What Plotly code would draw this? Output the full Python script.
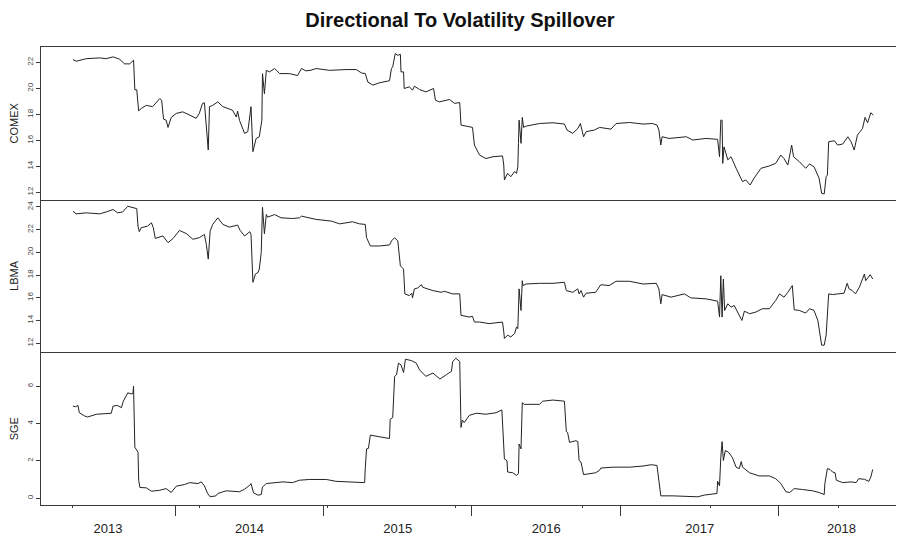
import plotly.graph_objects as go

# ---- data (x = observation index, y = directional spillover) ----
COMEX = [(1,22.23),(6,22.1),(22,22.3),(43,22.36),(53,22.3),(64,22.44),(74,22.26),(82,21.9),(90,21.9),(95,22.18),(96,22.18),
         (98,19.9),(101,19.9),(104,18.28),(108,18.46),(116,18.7),(126,18.6),(137,19.23),(140,19.1),(143,17.64),(147,17.56),
         (150,17.0),(155,17.77),(163,18.08),(173,18.2),(184,17.95),(194,17.7),(199,18.08),(204,18.85),(207,18.9),(210,17.2),
         (213,15.26),(215,18.6),(220,18.7),(228,18.97),(236,18.6),(251,18.33),(257,17.8),(259,18.26),(262,17.54),(270,16.54),
         (275,16.67),(280,18.6),(283,15.13),(288,16.15),(293,16.28),(297,17.56),(298,21.15),(301,19.6),(304,21.4),(309,21.28),
         (317,21.54),(325,21.15),(340,21.15),(353,21.0),(359,21.54),(366,21.36),(374,21.41),(382,21.54),(403,21.4),(429,21.46),
         (445,21.46),(453,21.2),(459,21.15),(463,20.5),(471,20.26),(481,20.44),(497,20.6),(500,21.54),(502,21.67),(506,22.69),
         (510,22.56),(514,22.64),(515,21.28),(519,21.28),(520,20.0),(528,20.13),(533,19.87),(536,20.18),(544,19.92),(554,19.74),
         (566,20.0),(569,19.1),(575,18.97),(591,19.15),(599,18.85),(607,18.92),(609,17.18),(617,17.1),(627,17.0),(630,15.64),
         (638,14.87),(648,14.6),(659,14.74),(674,14.8),(676,14.1),(677,12.95),(682,13.46),(687,13.2),(693,13.6),(696,13.46),
         (698,13.97),(699,15.77),(700,17.56),(703,15.77),(705,17.77),(707,17.0),(711,17.1),(732,17.3),(753,17.36),(771,17.26),
         (775,16.8),(784,16.54),(792,16.92),(796,17.3),(801,16.28),(805,16.67),(818,16.8),(826,17.0),(844,16.87),(852,17.3),
         (873,17.38),(894,17.26),(909,17.3),(916,17.18),(919,16.8),(922,15.64),(924,16.28),(935,16.15),(962,16.28),(972,16.03),
         (993,16.15),(1011,16.08),(1014,14.74),(1016,17.56),(1018,17.56),(1019,14.23),(1021,15.5),(1027,14.5),(1032,14.74),
         (1040,13.85),(1048,12.95),(1050,12.82),(1055,12.95),(1062,12.56),(1068,13.08),(1079,13.85),(1092,14.03),(1102,14.23),
         (1110,14.87),(1115,14.6),(1121,14.1),(1127,15.64),(1130,14.74),(1139,14.36),(1149,13.85),(1155,14.18),(1162,13.97),
         (1170,13.08),(1174,11.92),(1178,11.87),(1181,13.2),(1183,13.33),(1185,15.9),(1194,15.97),(1199,15.64),(1207,15.72),
         (1215,16.28),(1220,15.9),(1225,15.26),(1230,16.4),(1233,16.6),(1238,16.92),(1242,17.77),(1246,17.36),(1251,18.13),
         (1255,17.95)]

LBMA = [(1,23.62),(6,23.39),(22,23.48),(32,23.45),(43,23.39),(53,23.56),(64,23.77),(71,23.48),(79,23.56),(87,24.06),(95,23.97),
        (101,23.85),(103,22.31),(105,21.82),(108,22.17),(118,22.31),(124,22.6),(127,22.17),(130,21.23),(137,21.35),(142,21.44),
        (150,20.85),(158,21.23),(168,21.93),(179,21.64),(189,21.15),(199,21.29),(207,21.58),(210,20.7),(213,19.4),(216,21.87),
        (220,22.46),(228,23.04),(236,22.46),(246,22.22),(259,22.4),(263,21.93),(270,21.44),(278,21.82),(280,21.58),(283,17.36),
        (287,18.09),(291,18.23),(293,18.52),(296,19.98),(298,23.97),(301,21.64),(304,23.33),(306,23.1),(317,23.33),(327,23.04),
        (345,22.98),(356,23.04),(359,23.19),(366,23.1),(382,22.9),(406,22.75),(419,22.51),(439,22.69),(450,22.51),(459,22.46),
        (461,21.29),(467,20.56),(481,20.56),(497,20.65),(500,21.0),(505,21.29),(510,21.0),(514,18.81),(519,18.52),(521,16.34),
        (528,16.19),(532,16.4),(533,15.99),(536,16.78),(541,16.86),(547,17.15),(549,16.92),(565,16.63),(578,16.48),(583,16.57),
        (596,16.34),(607,16.34),(609,14.45),(622,14.3),(627,14.36),(630,13.86),(638,13.86),(653,13.72),(674,13.86),(676,12.99),
        (677,12.41),(682,12.7),(687,12.55),(693,12.84),(696,13.43),(698,13.28),(699,14.88),(700,16.78),(703,14.88),(705,17.5),
        (706,17.07),(711,17.21),(732,17.27),(753,17.27),(771,17.36),(774,16.63),(784,16.48),(792,16.78),(794,16.34),(797,16.63),
        (801,16.05),(805,16.4),(820,16.48),(828,17.15),(841,17.07),(852,17.45),(873,17.45),(894,17.21),(915,17.27),(919,16.78),
        (922,15.47),(924,16.28),(938,16.05),(959,16.34),(969,15.99),(993,15.9),(1011,15.7),(1014,14.3),(1016,17.94),(1018,14.3),
        (1020,17.65),(1022,14.88),(1027,15.47),(1032,15.17),(1037,15.32),(1042,14.74),(1049,14.0),(1053,14.82),(1061,14.59),
        (1071,14.74),(1081,15.03),(1092,15.03),(1102,15.76),(1108,16.34),(1115,16.05),(1121,16.48),(1124,16.78),(1128,17.07),
        (1131,14.94),(1139,14.88),(1149,14.65),(1155,15.03),(1162,14.88),(1168,14.0),(1174,11.82),(1178,11.82),(1181,12.7),
        (1185,16.34),(1191,16.28),(1202,16.34),(1209,16.4),(1214,17.27),(1217,16.78),(1222,16.63),(1227,16.34),(1233,16.92),
        (1241,18.09),(1243,17.5),(1250,18.03),(1254,17.65)]

SGE = [(1,4.94),(5,4.9),(9,4.97),(11,4.58),(19,4.41),(24,4.35),(38,4.5),(53,4.55),(61,4.55),(64,4.94),(71,4.97),(77,4.85),
       (80,5.2),(87,5.65),(92,5.59),(95,5.61),(96,6.0),(98,2.73),(100,2.6),(103,2.46),(104,0.96),(106,0.57),(116,0.55),
       (124,0.37),(137,0.42),(147,0.51),(155,0.3),(163,0.64),(176,0.73),(184,0.83),(197,0.78),(202,0.87),(207,0.66),(212,0.25),
       (216,0.07),(225,0.12),(228,0.25),(241,0.39),(262,0.34),(270,0.48),(278,0.69),(280,0.78),(284,0.28),(291,0.16),(296,0.19),
       (298,0.6),(304,0.78),(314,0.83),(330,0.87),(345,0.83),(356,0.96),(372,1.0),(398,1.0),(413,0.9),(439,0.87),(458,0.83),
       (459,1.58),(461,2.64),(464,2.67),(467,3.38),(481,3.29),(497,3.2),(498,4.23),(502,4.32),(505,6.53),(508,6.62),(511,7.24),
       (515,7.15),(519,6.74),(522,7.45),(531,7.38),(539,7.24),(544,6.88),(554,6.53),(565,6.71),(576,6.39),(586,6.62),(594,6.8),
       (596,7.33),(601,7.5),(607,7.33),(609,3.79),(611,4.19),(614,4.05),(622,4.44),(633,4.55),(648,4.5),(664,4.58),(673,4.73),
       (675,3.7),(677,2.1),(681,2.01),(682,1.4),(690,1.36),(696,1.22),(699,1.31),(700,2.9),(703,2.64),(705,5.12),(708,5.03),
       (721,5.03),(732,5.03),(737,5.2),(753,5.26),(771,5.2),(774,3.56),(776,3.52),(779,2.99),(789,3.08),(792,3.03),(794,2.02),
       (797,1.93),(801,1.26),(810,1.31),(820,1.36),(826,1.49),(828,1.61),(847,1.66),(873,1.66),(894,1.72),(907,1.79),(916,1.75),
       (919,1.04),(922,0.12),(941,0.12),(962,0.1),(980,0.07),(990,0.16),(1010,0.25),(1011,0.9),(1014,0.66),(1016,2.19),
       (1018,3.03),(1020,2.02),(1023,2.55),(1028,2.46),(1034,2.19),(1040,1.66),(1045,1.58),(1048,1.96),(1050,1.66),(1061,1.36),
       (1076,1.19),(1092,1.19),(1102,1.04),(1110,0.78),(1118,0.34),(1124,0.3),(1131,0.51),(1144,0.46),(1160,0.39),(1170,0.3),
       (1178,0.19),(1179,0.78),(1183,1.58),(1187,1.54),(1191,1.4),(1195,1.36),(1197,0.96),(1207,0.83),(1220,0.87),(1228,0.83),
       (1232,1.04),(1241,1.01),(1248,0.9),(1251,1.13),(1254,1.54)]

YEARS = ["2013", "2014", "2015", "2016", "2017", "2018"]
YEAR_STARTS = [161, 394, 626, 859, 1107]          # first observation of 2014..2018
INDEX_TICKS = [0, 200, 400, 600, 800, 1000, 1200]
X_RANGE = [-49, 1303]

COMEX_TICKS = [12, 14, 16, 18, 20, 22]
LBMA_TICKS = [12, 14, 16, 18, 20, 22, 24]
SGE_TICKS = [0, 2, 4, 6]

# ---- figure ----
FONT = "Liberation Sans, Arial, Helvetica, sans-serif"
LINE = "#222222"
AX = "#3a3a3a"

fig = go.Figure()
series = [("COMEX", COMEX, "x", "y"), ("LBMA", LBMA, "x2", "y2"), ("SGE", SGE, "x3", "y3")]
for name, pts, xa, ya in series:
    fig.add_trace(go.Scatter(x=[p[0] for p in pts], y=[p[1] for p in pts], mode="lines",
                             line=dict(color=LINE, width=1), name=name, xaxis=xa, yaxis=ya,
                             showlegend=False, hoverinfo="x+y"))
# carrier for the overlaid label axis
fig.add_trace(go.Scatter(x=[], y=[], xaxis="x4", yaxis="y3", showlegend=False))

edges = [X_RANGE[0]] + YEAR_STARTS + [X_RANGE[1]]
mids = [(edges[i] + edges[i + 1]) / 2 for i in range(len(YEARS))]

common_x = dict(range=X_RANGE, showgrid=False, zeroline=False, showline=True, linecolor=AX, linewidth=1)
common_y = dict(showgrid=False, zeroline=False, showline=True, linecolor=AX, linewidth=1,
                ticks="outside", ticklen=4, tickcolor=AX, tickangle=-90,
                tickfont=dict(family=FONT, size=8, color="#444"),
                title_font=dict(family=FONT, size=11, color="#222"), title_standoff=6)

W, H = 896, 528   # page body keeps an 8px margin inside the 904x536 window

fig.update_layout(
    width=W, height=H,
    margin=dict(l=33, r=0, t=39, b=28),
    paper_bgcolor="white", plot_bgcolor="white",
    title=dict(text="Directional To Volatility Spillover", x=452 / W, xanchor="center",
               y=1 - 12 / H, yanchor="middle",
               font=dict(family=FONT, size=20, color="#111", weight="bold")),
    xaxis=dict(anchor="y", showticklabels=False, ticks="", mirror=True, **common_x),
    xaxis2=dict(anchor="y2", showticklabels=False, ticks="", **common_x),
    xaxis3=dict(anchor="y3", tickmode="array", tickvals=YEAR_STARTS, showticklabels=False,
                ticks="outside", ticklen=10, tickcolor=AX, **common_x),
    xaxis4=dict(overlaying="x3", anchor="y3", side="bottom", range=X_RANGE, showgrid=False,
                zeroline=False, showline=False, tickmode="array", tickvals=mids, ticktext=YEARS,
                ticks="outside", ticklen=11, tickcolor="rgba(0,0,0,0)",
                tickfont=dict(family=FONT, size=13, color="#222"),
                minor=dict(tickmode="array", tickvals=INDEX_TICKS, ticks="outside", ticklen=2,
                           tickcolor=AX, showgrid=False)),
    yaxis=dict(domain=[2 / 3, 1], range=[11.43, 23.2], tickvals=COMEX_TICKS, title_text="COMEX", **common_y),
    yaxis2=dict(domain=[1 / 3, 2 / 3], range=[11.19, 24.64], tickvals=LBMA_TICKS, title_text="LBMA", **common_y),
    yaxis3=dict(domain=[0, 1 / 3], range=[-0.37, 7.82], tickvals=SGE_TICKS, title_text="SGE", **common_y),
)

fig.write_html("out.html")
